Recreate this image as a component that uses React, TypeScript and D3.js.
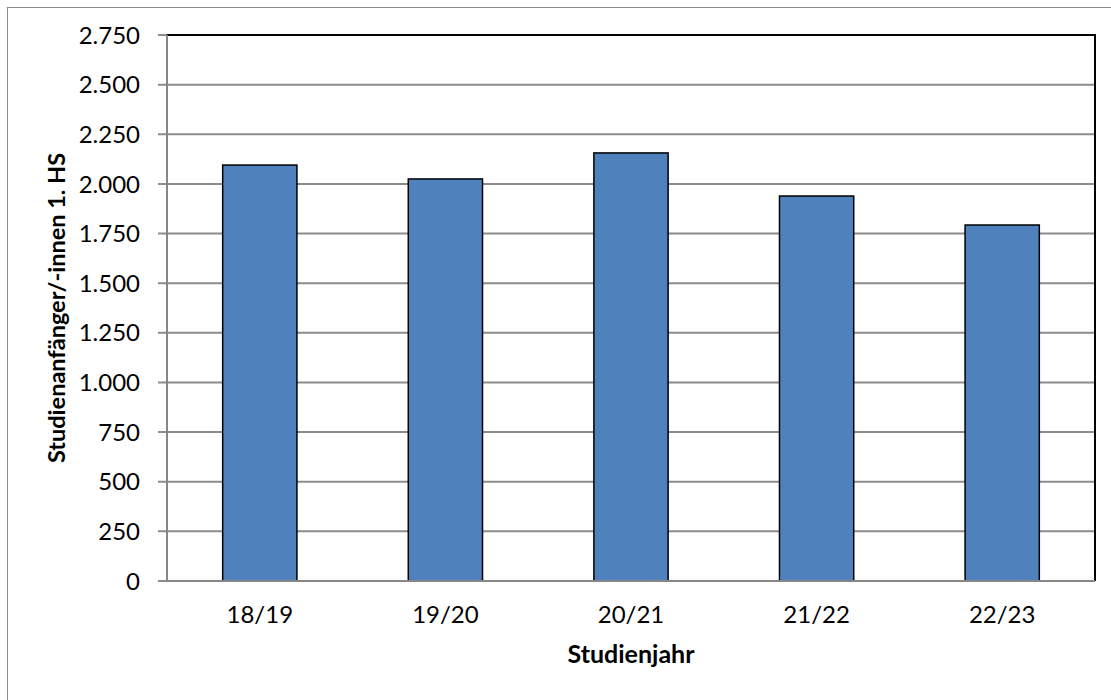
import React, { useEffect, useRef } from "react";
import * as d3 from "d3";

const years = ["18/19", "19/20", "20/21", "21/22", "22/23"];
const anfaenger = [2095, 2025, 2156, 1939, 1793];
const yTicks = [0, 250, 500, 750, 1000, 1250, 1500, 1750, 2000, 2250, 2500, 2750];

const App = () => {
  const svgRef = useRef<SVGSVGElement>(null);

  useEffect(() => {
    const svg = d3.select(svgRef.current);
    svg.selectAll("*").remove();

    const width = 1111;
    const height = 700;
    const plot = { left: 167, right: 1095, top: 35, bottom: 581 };
    const font = "Lato, 'Open Sans', sans-serif";

    svg.attr("width", width).attr("height", height);

    // Rahmen um das Diagramm
    svg
      .append("rect")
      .attr("x", 7.5)
      .attr("y", 7.5)
      .attr("width", 1200)
      .attr("height", 800)
      .attr("fill", "#fff")
      .attr("stroke", "#8a8a8a")
      .attr("stroke-width", 1);

    const x = d3
      .scaleBand()
      .domain(years)
      .range([plot.left, plot.right])
      .paddingInner(0.6)
      .paddingOuter(0.3);

    const y = d3.scaleLinear().domain([0, 2750]).range([plot.bottom, plot.top]);

    // Gitterlinien
    svg
      .append("g")
      .selectAll("line")
      .data(yTicks.filter((t) => t > 0 && t < 2750))
      .join("line")
      .attr("x1", plot.left - 9)
      .attr("x2", plot.right)
      .attr("y1", (d) => y(d))
      .attr("y2", (d) => y(d))
      .attr("stroke", "#8c8c8c")
      .attr("stroke-width", 2);

    // Tick-Striche für 0 und 2750
    svg
      .append("g")
      .selectAll("line")
      .data([0, 2750])
      .join("line")
      .attr("x1", plot.left - 9)
      .attr("x2", plot.left)
      .attr("y1", (d) => y(d))
      .attr("y2", (d) => y(d))
      .attr("stroke", "#8c8c8c")
      .attr("stroke-width", 2);

    // Rahmen oben und rechts
    svg
      .append("path")
      .attr("d", `M${plot.left},${plot.top}H${plot.right}V${plot.bottom}`)
      .attr("fill", "none")
      .attr("stroke", "#000")
      .attr("stroke-width", 2);

    // Balken
    svg
      .append("g")
      .selectAll("rect")
      .data(years)
      .join("rect")
      .attr("x", (d) => x(d)!)
      .attr("y", (d, i) => y(anfaenger[i]))
      .attr("width", x.bandwidth())
      .attr("height", (d, i) => y(0) - y(anfaenger[i]))
      .attr("fill", "#4f81bd")
      .attr("stroke", "#000")
      .attr("stroke-width", 1.5);

    // Achsen
    svg
      .append("path")
      .attr("d", `M${plot.left},${plot.top}V${plot.bottom}H${plot.right}`)
      .attr("fill", "none")
      .attr("stroke", "#868686")
      .attr("stroke-width", 2);

    // Y-Beschriftung
    svg
      .append("g")
      .selectAll("text")
      .data(yTicks)
      .join("text")
      .attr("x", 140)
      .attr("y", (d) => y(d))
      .attr("dy", "0.36em")
      .attr("text-anchor", "end")
      .style("font-family", font)
      .style("font-size", "24px")
      .text((d) => d3.format(",")(d).replace(",", "."));

    // X-Beschriftung
    svg
      .append("g")
      .selectAll("text")
      .data(years)
      .join("text")
      .attr("x", (d) => x(d)! + x.bandwidth() / 2)
      .attr("y", 623)
      .attr("text-anchor", "middle")
      .style("font-family", font)
      .style("font-size", "24px")
      .text((d) => d);

    // Achsentitel
    svg
      .append("text")
      .attr("x", (plot.left + plot.right) / 2)
      .attr("y", 663)
      .attr("text-anchor", "middle")
      .style("font-family", font)
      .style("font-size", "25px")
      .style("font-weight", "bold")
      .text("Studienjahr");

    svg
      .append("text")
      .attr("transform", `translate(65,${(plot.top + plot.bottom) / 2}) rotate(-90)`)
      .attr("text-anchor", "middle")
      .style("font-family", font)
      .style("font-size", "23.5px")
      .style("font-weight", "bold")
      .text("Studienanfänger/-innen 1. HS");
  }, []);

  return (
    <div style={{ position: "absolute", left: 0, top: 0 }}>
      <svg ref={svgRef} style={{ display: "block" }}></svg>
    </div>
  );
};

export default App;
